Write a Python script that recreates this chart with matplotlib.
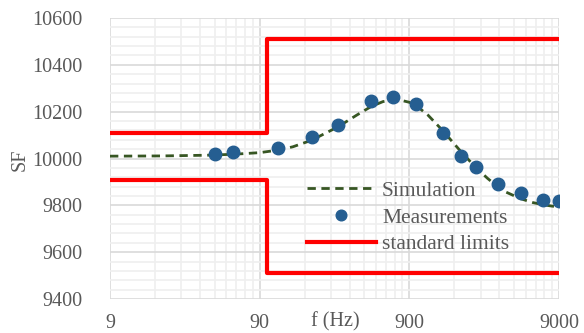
import matplotlib
matplotlib.use('Agg')
import matplotlib.pyplot as plt
from matplotlib.ticker import FixedLocator, MultipleLocator, NullFormatter
import numpy as np

plt.rcParams['font.family'] = ['Liberation Serif', 'DejaVu Serif']

# simulated curve
sim_f = [9, 20, 40, 60, 90, 120, 150, 200, 300, 400, 500, 600, 700, 800, 900,
         1000, 1200, 1500, 2000, 2500, 3000, 3500, 4000, 5000, 6000, 7000, 8000, 9000]
sim_sf = [10010, 10011, 10014, 10018, 10025, 10036, 10050, 10078, 10135, 10185, 10222,
          10243, 10250, 10248, 10240, 10226, 10185, 10120, 10028, 9962, 9915, 9880,
          9856, 9828, 9812, 9803, 9797, 9793]

# measured points
meas_f = [45, 60, 120, 200, 300, 500, 700, 1000, 1500, 2000, 2500, 3500, 5000, 7000, 9000]
meas_sf = [10020, 10029, 10046, 10090, 10144, 10244, 10261, 10231, 10111, 10011,
           9962, 9892, 9853, 9824, 9817]

# standard limits (step at 100 Hz)
lim_f = [9, 100, 100, 9000]
lim_upper = [10110, 10110, 10510, 10510]
lim_lower = [9910, 9910, 9510, 9510]

fig = plt.figure(figsize=(5.84, 3.33), dpi=100)
ax = fig.add_axes([110/584, 1 - 299/333, 449/584, 281/333])

ax.plot(sim_f, sim_sf, '--', color='#375623', lw=2, dashes=(3, 2), label='Simulation', zorder=3)
ax.plot(meas_f, meas_sf, 'o', color='#255e91', ms=9, label='Measurements', zorder=4)
ax.plot(lim_f, lim_upper, '-', color='#ff0000', lw=3, label='standard limits', zorder=2)
ax.plot(lim_f, lim_lower, '-', color='#ff0000', lw=3, zorder=2)

ax.set_xscale('log')
ax.set_xlim(9, 9000)
ax.set_ylim(9400, 10600)

ax.xaxis.set_major_locator(FixedLocator([9, 90, 900, 9000]))
ax.xaxis.set_minor_locator(FixedLocator([9 * 10**d * k for d in range(3) for k in range(2, 10)]))
ax.xaxis.set_minor_formatter(NullFormatter())
ax.set_xticklabels(['9', '90', '900', '9000'])
ax.yaxis.set_major_locator(MultipleLocator(200))
ax.yaxis.set_minor_locator(MultipleLocator(40))

ax.grid(which='major', color='#d9d9d9', lw=1.2)
ax.grid(which='minor', color='#efefef', lw=1.2)
ax.set_axisbelow(True)
for s in ax.spines.values():
    s.set_visible(False)

ax.tick_params(which='both', length=0, labelsize=14.5, labelcolor='#595959')
ax.tick_params(axis='x', pad=11)
ax.tick_params(axis='y', pad=20)

fig.text(20/584, 1 - 160/333, 'SF', rotation=90, ha='center', va='center',
         fontsize=14.5, color='#595959')
fig.text(335/584, 1 - 322/333, 'f (Hz)', ha='center', va='center',
         fontsize=14.5, color='#595959')

leg = ax.legend(loc='center left', bbox_to_anchor=(0.395, 0.29), frameon=False,
                fontsize=15.5, handlelength=3.2, handletextpad=0.3, labelspacing=0.3,
                markerscale=0.85)
for t in leg.get_texts():
    t.set_color('#595959')

fig.savefig('out.png', dpi=100)
